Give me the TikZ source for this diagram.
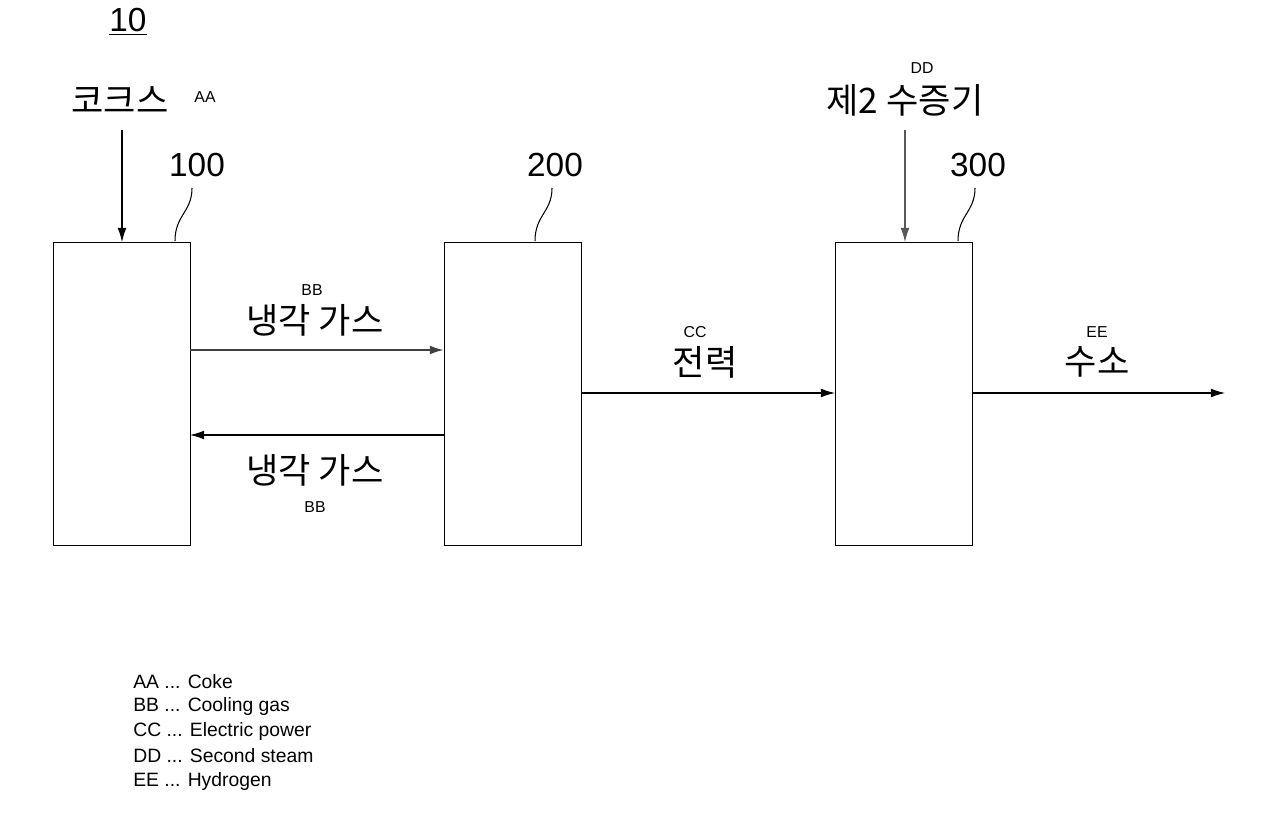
\documentclass[tikz,border=0pt]{standalone}
\usepackage{fontspec}
\usetikzlibrary{arrows.meta}
\setmainfont{Liberation Sans}
\newfontfamily\kr{Noto Sans CJK KR}
\begin{document}
\begin{tikzpicture}[x=0.02cm,y=-0.02cm,
  blk/.style={draw,line width=0.8pt,minimum width=2.74cm,minimum height=6.06cm,anchor=north west,inner sep=0},
  big/.style={font=\kr\fontsize{20}{22}\selectfont,inner sep=0},
  sm/.style={font=\fontsize{9}{10}\selectfont,inner sep=0},
  num/.style={font=\fontsize{19}{21}\selectfont,inner sep=0},
  leg/.style={font=\fontsize{11}{12}\selectfont,anchor=west,inner sep=0},
  arr/.style={-{Latex[length=8pt,width=5pt]},line width=0.6pt},
  lead/.style={line width=0.6pt}]
\useasboundingbox (0,0) rectangle (1271,828);
\node[blk] (b1) at (53,242) {};
\node[blk] (b2) at (444,242) {};
\node[blk] (b3) at (835,242) {};
\node[num] (t10) at (128,22) {\underline{10}};
\node[big] (coke) at (120,100) {코크스};
\node[sm] (aa) at (205,97) {AA};
\coordinate (c1) at (122,130);
\draw[arr] (c1) -- (b1.north west -| c1);
\node[num] (n100) at (197,165) {100};
\draw[lead] (175,241) .. controls (175,215) and (192,212) .. (192,188);
\node[num] (n200) at (555,165) {200};
\draw[lead] (535,241) .. controls (535,215) and (552,212) .. (552,188);
\node[num] (n300) at (978,165) {300};
\draw[lead] (958,241) .. controls (958,215) and (975,212) .. (975,188);
\node[sm] (dd) at (922,68) {DD};
\node[big] (steam) at (905,100) {제2 수증기};
\coordinate (c3) at (905,130);
\draw[arr,gray!70!black] (c3) -- (b3.north west -| c3);
\coordinate (u1) at (190,350); \coordinate (u2) at (444,350);
\draw[arr,line width=1.2pt,black!75] (u1) -- (u2);
\node[sm] (bb1) at (312,290) {BB};
\node[big] (g1) at (315,320) {냉각 가스};
\coordinate (l1) at (444,435); \coordinate (l2) at (190,435);
\draw[arr] (l1) -- (l2);
\node[big] (g2) at (315,470) {냉각 가스};
\node[sm] (bb2) at (315,507) {BB};
\coordinate (p1) at (582,393); \coordinate (p2) at (835,393);
\draw[arr] (p1) -- (p2);
\node[sm] (cc) at (695,332) {CC};
\node[big] (pw) at (705,362) {전력};
\coordinate (h1) at (973,393); \coordinate (h2) at (1225,393);
\draw[arr] (h1) -- (h2);
\node[sm] (ee) at (1097,332) {EE};
\node[big] (hy) at (1097,362) {수소};
\node[leg] (l_a) at (133,682) {AA ... Coke};
\node[leg] (l_b) at (133,706) {BB ... Cooling gas};
\node[leg] (l_c) at (133,731) {CC ... Electric power};
\node[leg] (l_d) at (133,756) {DD ... Second steam};
\node[leg] (l_e) at (133,781) {EE ... Hydrogen};
\end{tikzpicture}
\end{document}
